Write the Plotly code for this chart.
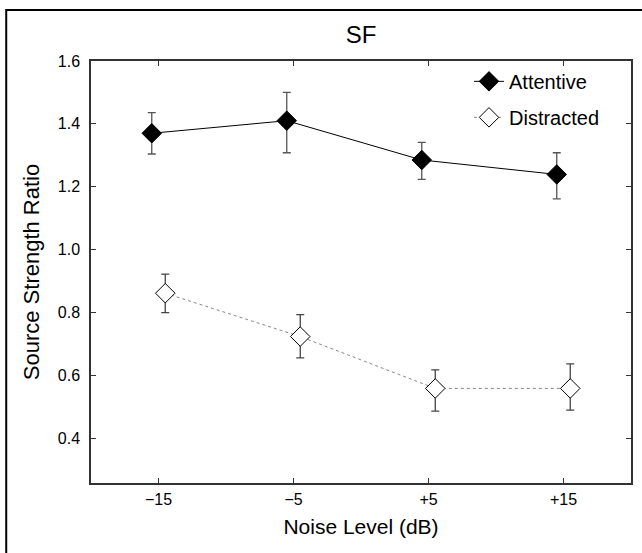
import plotly.graph_objects as go

# Noise conditions (categorical x positions 0..3)
noise_labels = ["\u221215", "\u22125", "+5", "+15"]
noise_pos = [0, 1, 2, 3]

# Source strength ratio, mean and error (upper / lower)
attentive = [1.370, 1.410, 1.285, 1.239]
attentive_err_up = [0.066, 0.090, 0.056, 0.069]
attentive_err_dn = [0.066, 0.102, 0.062, 0.078]

distracted = [0.861, 0.723, 0.558, 0.558]
distracted_err_up = [0.061, 0.070, 0.059, 0.078]
distracted_err_dn = [0.062, 0.068, 0.072, 0.069]

y_ticks = [0.4, 0.6, 0.8, 1.0, 1.2, 1.4, 1.6]
y_tick_text = ["0.4", "0.6", "0.8", "1.0", "1.2", "1.4", "1.6"]

dodge = 0.05
FONT = "Liberation Sans, Arial, Helvetica, sans-serif"

fig = go.Figure()

fig.add_trace(go.Scatter(
    x=[p - dodge for p in noise_pos], y=attentive,
    mode="lines+markers", name="Attentive", legendgroup="a",
    line=dict(color="black", width=1),
    marker=dict(symbol="diamond", size=15, color="black",
                line=dict(color="black", width=1)),
    error_y=dict(type="data", symmetric=False,
                 array=attentive_err_up, arrayminus=attentive_err_dn,
                 color="#555555", thickness=1.3, width=4),
))

fig.add_trace(go.Scatter(
    x=[p + dodge for p in noise_pos], y=distracted,
    mode="lines+markers", name="Distracted", legendgroup="d",
    line=dict(color="#888888", width=1, dash="dot"),
    marker=dict(symbol="diamond", size=15, color="white",
                line=dict(color="black", width=1)),
    error_y=dict(type="data", symmetric=False,
                 array=distracted_err_up, arrayminus=distracted_err_dn,
                 color="#444444", thickness=1.3, width=4),
))

axis_common = dict(
    showgrid=False, zeroline=False,
    showline=True, linecolor="#333333", linewidth=1.5,
    mirror="allticks", ticks="inside", ticklen=5, tickcolor="#333333",
    tickfont=dict(family=FONT, size=16, color="black"),
)

fig.update_layout(
    width=642, height=553,
    margin=dict(l=91, r=9, t=61, b=70),
    paper_bgcolor="white", plot_bgcolor="white",
    title=dict(text="SF", x=0.5625, xanchor="center", y=0.937, yanchor="middle",
               font=dict(family=FONT, size=24, color="black")),
    xaxis=dict(axis_common, range=[-0.5, 3.5], tickmode="array",
               tickvals=noise_pos, ticktext=noise_labels,
               ticklabelstandoff=1,
               title=dict(text="Noise Level (dB)", standoff=12,
                          font=dict(family=FONT, size=21, color="black"))),
    yaxis=dict(axis_common, range=[0.257, 1.6], tickmode="array",
               tickvals=y_ticks, ticktext=y_tick_text,
               ticklabelstandoff=6,
               title=dict(text="Source Strength Ratio", standoff=12,
                          font=dict(family=FONT, size=22, color="black"))),
    legend=dict(x=0.70, y=0.998, xanchor="left", yanchor="top",
                bgcolor="rgba(0,0,0,0)", borderwidth=0,
                font=dict(family=FONT, size=20, color="black"),
                itemwidth=30, tracegroupgap=7),
    showlegend=True,
    shapes=[dict(type="rect", xref="paper", yref="paper",
                 x0=-0.157, x1=1.08, y0=-0.2, y1=1.121,
                 line=dict(color="black", width=2), fillcolor="rgba(0,0,0,0)",
                 layer="below")],
)

fig.write_html("out.html")
